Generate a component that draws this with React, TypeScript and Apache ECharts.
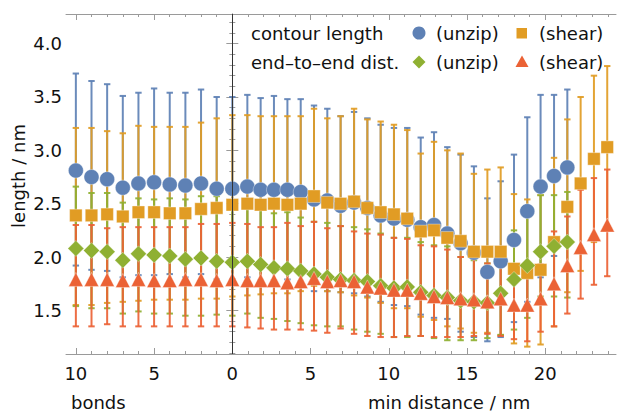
import React, { useEffect, useRef } from "react";
import * as echarts from "echarts";

// x positions: bonds (shown as positive numbers left of 0) and min distance / nm
const xPos = [
  -10, -9, -8, -7, -6, -5, -4, -3, -2, -1, 0,
  0.96, 1.81, 2.66, 3.52, 4.37, 5.22, 6.07, 6.92, 7.78, 8.63, 9.48, 10.33, 11.18, 12.04,
  12.89, 13.74, 14.59, 15.44, 16.3, 17.15, 18.0, 18.85, 19.7, 20.56, 21.41, 22.26, 23.11, 23.96,
];

// contour length (unzip)
const clUnzip = [
  2.81, 2.75, 2.73, 2.65, 2.69, 2.7, 2.68, 2.67, 2.69, 2.64, 2.64,
  2.66, 2.63, 2.63, 2.63, 2.61, 2.54, 2.53, 2.48, 2.51, 2.46, 2.39, 2.36, 2.35, 2.28,
  2.3, 2.22, 2.13, 2.04, 1.86, 1.96, 2.16, 2.43, 2.66, 2.76, 2.84, null, null, null,
];
const clUnzipHi = [
  3.72, 3.65, 3.62, 3.51, 3.54, 3.58, 3.54, 3.54, 3.57, 3.5, 3.5,
  3.52, 3.49, 3.51, 3.48, 3.48, 3.42, 3.39, 3.32, 3.36, 3.3, 3.24, 3.21, 3.21, 3.12,
  3.17, 3.03, 2.96, 2.85, 2.55, 2.71, 2.96, 3.31, 3.52, 3.52, 3.57, null, null, null,
];
const clUnzipLo = [
  1.92, 1.88, 1.87, 1.81, 1.83, 1.83, 1.84, 1.81, 1.84, 1.79, 1.79,
  1.81, 1.78, 1.78, 1.79, 1.77, 1.68, 1.68, 1.67, 1.66, 1.63, 1.58, 1.55, 1.54, 1.46,
  1.43, 1.42, 1.3, 1.25, 1.21, 1.25, 1.39, 1.58, 1.81, 2.01, 2.11, null, null, null,
];

// contour length (shear)
const clShear = [
  2.39, 2.39, 2.4, 2.38, 2.42, 2.42, 2.41, 2.41, 2.45, 2.46, 2.49,
  2.5, 2.49, 2.5, 2.49, 2.5, 2.57, 2.51, 2.5, 2.52, 2.46, 2.42, 2.4, 2.36, 2.24,
  2.25, 2.18, 2.15, 2.05, 2.05, 2.05, 1.89, 1.85, 1.88, 2.14, 2.47, 2.69, 2.92, 3.03,
];
const clShearHi = [
  3.21, 3.21, 3.18, 3.16, 3.23, 3.22, 3.22, 3.22, 3.26, 3.3, 3.33,
  3.33, 3.32, 3.32, 3.32, 3.32, 3.39, 3.3, 3.32, 3.39, 3.29, 3.27, 3.24, 3.19, 2.97,
  3.08, 3.0, 2.97, 2.78, 2.82, 2.84, 2.59, 2.54, 2.58, 2.93, 3.29, 3.5, 3.7, 3.79,
];
const clShearLo = [
  1.55, 1.55, 1.57, 1.58, 1.59, 1.6, 1.6, 1.6, 1.61, 1.61, 1.63,
  1.64, 1.65, 1.66, 1.66, 1.68, 1.73, 1.68, 1.67, 1.64, 1.62, 1.57, 1.52, 1.52, 1.44,
  1.41, 1.35, 1.33, 1.29, 1.29, 1.27, 1.19, 1.16, 1.18, 1.35, 1.67, 1.87, 2.14, 2.27,
];

// end-to-end distance (unzip)
const eeUnzip = [
  2.08, 2.06, 2.05, 1.97, 2.03, 2.02, 2.01, 1.98, 1.99, 1.96, 1.95,
  1.96, 1.93, 1.9, 1.89, 1.87, 1.84, 1.81, 1.79, 1.78, 1.77, 1.73, 1.71, 1.72, 1.67,
  1.64, 1.62, 1.59, 1.58, 1.57, 1.66, 1.79, 1.92, 2.05, 2.1, 2.14, null, null, null,
];
const eeUnzipHi = [
  2.66, 2.6, 2.6, 2.51, 2.55, 2.54, 2.55, 2.54, 2.57, 2.57, 2.49,
  2.52, 2.48, 2.41, 2.42, 2.37, 2.33, 2.32, 2.29, 2.28, 2.26, 2.22, 2.18, 2.18, 2.14,
  2.11, 2.1, 2.0, 1.97, 1.94, 2.08, 2.25, 2.46, 2.58, 2.58, 2.61, null, null, null,
];
const eeUnzipLo = [
  1.54, 1.52, 1.52, 1.47, 1.49, 1.47, 1.47, 1.45, 1.45, 1.46, 1.45,
  1.47, 1.43, 1.42, 1.4, 1.38, 1.36, 1.35, 1.35, 1.32, 1.3, 1.28, 1.25, 1.25, 1.26,
  1.24, 1.22, 1.22, 1.22, 1.24, 1.27, 1.32, 1.43, 1.63, 1.63, 1.62, null, null, null,
];

// end-to-end distance (shear)
const eeShear = [
  1.79, 1.79, 1.79, 1.78, 1.79, 1.78, 1.78, 1.79, 1.79, 1.78, 1.79,
  1.78, 1.78, 1.78, 1.76, 1.77, 1.8, 1.77, 1.78, 1.77, 1.72, 1.71, 1.69, 1.69, 1.66,
  1.63, 1.62, 1.61, 1.6, 1.58, 1.61, 1.55, 1.55, 1.61, 1.75, 1.92, 2.09, 2.21, 2.3,
];
const eeShearHi = [
  2.3, 2.3, 2.27, 2.28, 2.28, 2.28, 2.28, 2.28, 2.31, 2.31, 2.32,
  2.31, 2.28, 2.28, 2.32, 2.29, 2.33, 2.27, 2.29, 2.24, 2.22, 2.21, 2.18, 2.17, 2.11,
  2.1, 2.07, 2.0, 2.0, 1.94, 1.91, 1.89, 1.89, 1.93, 2.24, 2.38, 2.63, 2.74, 2.82,
];
const eeShearLo = [
  1.35, 1.35, 1.37, 1.35, 1.35, 1.35, 1.35, 1.35, 1.35, 1.35, 1.35,
  1.34, 1.33, 1.32, 1.32, 1.32, 1.31, 1.29, 1.33, 1.28, 1.26, 1.25, 1.25, 1.26, 1.26,
  1.25, 1.25, 1.25, 1.26, 1.28, 1.26, 1.23, 1.21, 1.3, 1.35, 1.47, 1.61, 1.74, 1.82,
];

const xMajorTicks = [-10, -5, 0, 5, 10, 15, 20];
const yMajorTicks = [1.5, 2.0, 2.5, 3.0, 3.5, 4.0];

const X_MIN = -10.63;
const X_MAX = 24.52;
const Y_MIN = 1.091;
const Y_MAX = 4.278;

const BLUE = "#5E81B5";
const ORANGE = "#E19C24";
const GREEN = "#8FB032";
const RED = "#EB6235";
const FRAME = "#9a9a9a";
const FONT = "DejaVu Sans";

function minorRange(a: number, b: number, step: number): number[] {
  const out: number[] = [];
  const n = Math.round((b - a) / step);
  for (let i = 0; i <= n; i++) out.push(Math.round((a + i * step) * 1000) / 1000);
  return out;
}

function errData(lo: (number | null)[], hi: (number | null)[]) {
  const d: number[][] = [];
  xPos.forEach((x, i) => {
    if (lo[i] != null && hi[i] != null) d.push([x, lo[i] as number, hi[i] as number]);
  });
  return d;
}
function ptData(v: (number | null)[]) {
  const d: number[][] = [];
  xPos.forEach((x, i) => {
    if (v[i] != null) d.push([x, v[i] as number]);
  });
  return d;
}

function errSeries(color: string, lo: (number | null)[], hi: (number | null)[]) {
  return {
    type: "custom",
    silent: true,
    z: 2,
    encode: { x: 0, y: [1, 2] },
    data: errData(lo, hi),
    renderItem: (params: any, api: any) => {
      const x = api.value(0);
      const pLo = api.coord([x, api.value(1)]);
      const pHi = api.coord([x, api.value(2)]);
      const hw = 3.2;
      const style = { stroke: color, lineWidth: 2, opacity: 0.92 };
      return {
        type: "group",
        children: [
          { type: "line", shape: { x1: pLo[0], y1: pLo[1], x2: pHi[0], y2: pHi[1] }, style },
          { type: "line", shape: { x1: pLo[0] - hw, y1: pLo[1], x2: pLo[0] + hw, y2: pLo[1] }, style },
          { type: "line", shape: { x1: pHi[0] - hw, y1: pHi[1], x2: pHi[0] + hw, y2: pHi[1] }, style },
        ],
      };
    },
  };
}

function ptSeries(color: string, v: (number | null)[], symbol: string, size: any) {
  return {
    type: "scatter",
    z: 3,
    symbol,
    symbolSize: size,
    itemStyle: { color, opacity: 1, borderColor: "rgba(255,255,255,0.45)", borderWidth: 0.8 },
    data: ptData(v),
    silent: true,
  };
}

export default function App() {
  const ref = useRef<HTMLDivElement>(null);
  useEffect(() => {
    if (!ref.current) return;
    const chart = echarts.init(ref.current, undefined, { renderer: "svg" });
    const xMinor = minorRange(-10, 24, 1);
    const yMinor = minorRange(1.1, 4.2, 0.1);
    const axisBase = {
      type: "value",
      min: X_MIN,
      max: X_MAX,
      splitLine: { show: false },
    };
    const yBase = {
      type: "value",
      min: Y_MIN,
      max: Y_MAX,
      splitLine: { show: false },
    };
    const markerLine = {
      silent: true,
      symbol: ["none", "none"],
      label: { show: false },
      lineStyle: { color: "#333", width: 1, type: "solid" },
      data: [{ xAxis: 0 }],
    };
    const first: any = ptSeries(BLUE, clUnzip, "circle", 15);
    const option: any = {
      animation: false,
      backgroundColor: "#fff",
      grid: { left: 66, top: 14, right: 1, bottom: 58, outerBoundsMode: "none" },
      xAxis: [
        {
          ...axisBase,
          position: "bottom",
          axisLine: { show: true, lineStyle: { color: FRAME, width: 1 } },
          axisTick: { show: true, inside: true, length: 6, customValues: xMajorTicks, lineStyle: { color: FRAME } },
          axisLabel: {
            customValues: xMajorTicks,
            formatter: (v: number) => String(Math.abs(v)),
            margin: 10,
            fontSize: 18,
            fontFamily: FONT,
            color: "#111",
          },
        },
        {
          ...axisBase,
          position: "bottom",
          axisLine: { show: false },
          axisTick: { show: true, inside: true, length: 3, customValues: xMinor, lineStyle: { color: FRAME } },
          axisLabel: { show: false },
        },
        {
          ...axisBase,
          position: "top",
          axisLine: { show: true, lineStyle: { color: FRAME, width: 1 } },
          axisTick: { show: true, inside: true, length: 6, customValues: xMajorTicks, lineStyle: { color: FRAME } },
          axisLabel: { show: false },
        },
        {
          ...axisBase,
          position: "top",
          axisLine: { show: false },
          axisTick: { show: true, inside: true, length: 3, customValues: xMinor, lineStyle: { color: FRAME } },
          axisLabel: { show: false },
        },
      ],
      yAxis: [
        {
          ...yBase,
          position: "left",
          axisLine: { show: true, lineStyle: { color: FRAME, width: 1 } },
          axisTick: { show: true, inside: true, length: 6, customValues: yMajorTicks, lineStyle: { color: FRAME } },
          axisLabel: {
            customValues: yMajorTicks,
            formatter: (v: number) => v.toFixed(1),
            margin: 4,
            fontSize: 18,
            fontFamily: FONT,
            color: "#111",
          },
        },
        {
          ...yBase,
          position: "left",
          axisLine: { show: false },
          axisTick: { show: true, inside: true, length: 3, customValues: yMinor, lineStyle: { color: FRAME } },
          axisLabel: { show: false },
        },
        {
          ...yBase,
          position: "right",
          axisLine: { show: true, lineStyle: { color: FRAME, width: 1 } },
          axisTick: { show: true, inside: true, length: 6, customValues: yMajorTicks, lineStyle: { color: FRAME } },
          axisLabel: { show: false },
        },
        {
          ...yBase,
          position: "right",
          axisLine: { show: false },
          axisTick: { show: true, inside: true, length: 3, customValues: yMinor, lineStyle: { color: FRAME } },
          axisLabel: { show: false },
        },
      ],
      series: [
        errSeries(BLUE, clUnzipLo, clUnzipHi),
        errSeries(ORANGE, clShearLo, clShearHi),
        errSeries(GREEN, eeUnzipLo, eeUnzipHi),
        errSeries(RED, eeShearLo, eeShearHi),
        { ...first, markLine: markerLine },
        ptSeries(ORANGE, clShear, "rect", 12.5),
        ptSeries(GREEN, eeUnzip, "diamond", [16, 16]),
        ptSeries(RED, eeShear, "triangle", [14.5, 14]),
      ],
      graphic: [
        { type: "text", x: 251, y: 33, style: { text: "contour length", fontSize: 18, fontFamily: FONT, fill: "#111", textVerticalAlign: "middle" } },
        { type: "text", x: 251, y: 62, style: { text: "end–to–end dist.", fontSize: 18, fontFamily: FONT, fill: "#111", textVerticalAlign: "middle" } },
        { type: "circle", shape: { cx: 419, cy: 33, r: 6.5 }, style: { fill: BLUE } },
        { type: "text", x: 436, y: 33, style: { text: "(unzip)", fontSize: 18, fontFamily: FONT, fill: "#111", textVerticalAlign: "middle" } },
        { type: "rect", shape: { x: 516.5, y: 28, width: 10.5, height: 10.5 }, style: { fill: ORANGE } },
        { type: "text", x: 539, y: 33, style: { text: "(shear)", fontSize: 18, fontFamily: FONT, fill: "#111", textVerticalAlign: "middle" } },
        { type: "polygon", shape: { points: [[419, 55.5], [425.5, 62], [419, 68.5], [412.5, 62]] }, style: { fill: GREEN } },
        { type: "text", x: 436, y: 62, style: { text: "(unzip)", fontSize: 18, fontFamily: FONT, fill: "#111", textVerticalAlign: "middle" } },
        { type: "polygon", shape: { points: [[522, 55.5], [528.5, 67], [515.5, 67]] }, style: { fill: RED } },
        { type: "text", x: 539, y: 62, style: { text: "(shear)", fontSize: 18, fontFamily: FONT, fill: "#111", textVerticalAlign: "middle" } },
        { type: "text", x: 71, y: 402, style: { text: "bonds", fontSize: 18, fontFamily: FONT, fill: "#111", textVerticalAlign: "middle" } },
        { type: "text", x: 368, y: 402, style: { text: "min distance / nm", fontSize: 18, fontFamily: FONT, fill: "#111", textVerticalAlign: "middle" } },
        {
          type: "text",
          x: 18,
          y: 176,
          rotation: Math.PI / 2,
          style: { text: "length / nm", fontSize: 18, fontFamily: FONT, fill: "#111", textAlign: "center", textVerticalAlign: "middle" },
        },
      ],
    };
    chart.setOption(option);
    return () => chart.dispose();
  }, []);
  return (
    <div
      ref={ref}
      style={{ position: "fixed", left: 0, top: 0, width: 617, height: 412, background: "#fff" }}
    />
  );
}
